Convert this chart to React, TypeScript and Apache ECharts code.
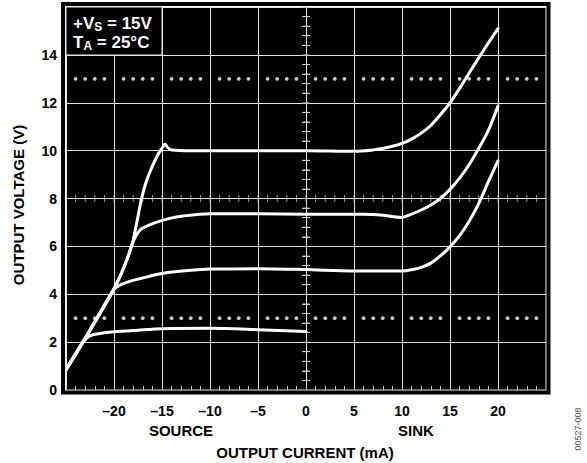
import React, { useEffect, useRef } from "react";
import * as echarts from "echarts";

const FONT = '"Liberation Sans", Arial, Helvetica, sans-serif';

// Output current (mA) vs output voltage (V)
const curveLow: number[][] = [
  [-25, 0.85], [-24, 1.48], [-23.2, 2.0], [-22.6, 2.25], [-21.8, 2.34], [-20, 2.43],
  [-17.5, 2.5], [-15, 2.56], [-10, 2.58], [-5, 2.52], [0, 2.44],
];
const curve5: number[][] = [
  [-25, 0.85], [-22.5, 2.5], [-20.1, 4.15], [-19.4, 4.38], [-18, 4.58], [-16, 4.78],
  [-15, 4.87], [-12, 5.0], [-10, 5.05], [-5, 5.07], [0, 5.03], [5, 4.97], [10, 4.97],
  [11, 5.02], [12, 5.12], [13, 5.3], [14, 5.6], [15, 5.98], [16, 6.45], [17, 7.05],
  [18, 7.8], [19, 8.7], [20, 9.57],
];
const curve7: number[][] = [
  [-25, 0.85], [-22.5, 2.5], [-20.1, 4.15], [-19.2, 4.9], [-18.6, 5.5], [-18.1, 6.1],
  [-17.7, 6.45], [-17.1, 6.75], [-15.7, 6.99], [-14.2, 7.17], [-12.8, 7.27], [-10, 7.36],
  [-5, 7.36], [0, 7.34], [6, 7.34], [8, 7.3], [9.9, 7.21], [11, 7.35], [12, 7.52],
  [13, 7.73], [14, 8.0], [15, 8.38], [16, 8.85], [17, 9.42], [18, 10.1], [19, 10.85],
  [20, 11.86],
];
const curve10: number[][] = [
  [-25, 0.85], [-22.5, 2.5], [-20.1, 4.15], [-19.2, 4.9], [-18.6, 5.5], [-18.1, 6.1],
  [-17.6, 7.05], [-17.1, 8.05], [-16.6, 8.75], [-16.0, 9.35], [-15.4, 9.85], [-15.0, 10.1],
  [-14.7, 10.28], [-14.4, 10.12], [-14.0, 10.03], [-12, 10.0], [-5, 10.0], [0, 10.0],
  [5, 9.97], [7, 10.03], [8, 10.1], [9, 10.18], [10, 10.3], [11, 10.48], [12, 10.73],
  [13, 11.05], [14, 11.5], [15, 12.0], [16, 12.6], [17, 13.24], [18, 13.88], [19, 14.5],
  [20, 15.1],
];

const X_MIN = -25, X_MAX = 25, X_STEP = 5;
const Y_MIN = 0, Y_MAX = 16, Y_STEP = 2;
const xLabelsShown = [-20, -15, -10, -5, 0, 5, 10, 15, 20];
const yLabelsShown = [0, 2, 4, 6, 8, 10, 12, 14];
const dottedRows = [3, 13];

// graticule decorations (scope-style): dotted rows and center-line ticks
const dotPts: number[][] = [];
for (const yv of dottedRows) {
  for (let xv = X_MIN + 1; xv < X_MAX; xv++) {
    if (xv % 5 !== 0) dotPts.push([xv, yv]);
  }
}
const vTickPts: number[][] = [];
for (let i = 1; i < 40; i++) vTickPts.push([0, +(i * 0.4).toFixed(1)]);
const hTickPts: number[][] = [];
for (let xv = X_MIN + 1; xv < X_MAX; xv++) hTickPts.push([xv, 8]);

const lineSeries = (data: number[][]) => ({
  type: "line",
  data,
  showSymbol: false,
  smooth: 0.3,
  z: 5,
  silent: true,
  lineStyle: { color: "#ffffff", width: 3, cap: "round", join: "round" },
});

const tickColor = "#c8c8c8";

export default function App() {
  const ref = useRef<HTMLDivElement>(null);
  useEffect(() => {
    const chart = echarts.init(ref.current!, null, { renderer: "svg" });
    const xFmt = (v: number) =>
      xLabelsShown.includes(v) ? (v < 0 ? "\u2013" + Math.abs(v) : String(v)) : "";
    const yFmt = (v: number) => (yLabelsShown.includes(v) ? String(v) : "");
    const labelStyle = {
      fontFamily: FONT,
      fontWeight: "bold",
      fontSize: 14,
      color: "#000",
    };
    const axisCommon = {
      axisLine: { show: false },
      axisTick: { show: true, inside: true, length: 4, lineStyle: { color: tickColor } },
      minorTick: { show: true, splitNumber: 5, length: 4, lineStyle: { color: tickColor } },
    };
    chart.setOption({
      animation: false,
      backgroundColor: "#ffffff",
      grid: {
        left: 66,
        top: 7,
        width: 480,
        height: 383,
        show: true,
        backgroundColor: "#000000",
        borderColor: "#eeeeee",
        borderWidth: 1,
      },
      xAxis: [
        {
          type: "value",
          min: X_MIN,
          max: X_MAX,
          interval: X_STEP,
          position: "bottom",
          ...axisCommon,
          splitLine: { show: true, lineStyle: { color: "#e2e2e2", width: 1 } },
          axisLabel: { ...labelStyle, margin: 14, formatter: xFmt, showMinLabel: true, showMaxLabel: true },
        },
        {
          type: "value",
          min: X_MIN,
          max: X_MAX,
          interval: X_STEP,
          position: "top",
          ...axisCommon,
          splitLine: { show: false },
          axisLabel: { show: false },
        },
      ],
      yAxis: [
        {
          type: "value",
          min: Y_MIN,
          max: Y_MAX,
          interval: Y_STEP,
          position: "left",
          ...axisCommon,
          splitLine: { show: true, lineStyle: { color: "#e2e2e2", width: 1 } },
          axisLabel: { ...labelStyle, margin: 9, formatter: yFmt },
        },
        {
          type: "value",
          min: Y_MIN,
          max: Y_MAX,
          interval: Y_STEP,
          position: "right",
          ...axisCommon,
          splitLine: { show: false },
          axisLabel: { show: false },
        },
      ],
      series: [
        {
          type: "scatter",
          data: dotPts,
          symbol: "circle",
          symbolSize: 3.8,
          itemStyle: { color: "#ffffff" },
          silent: true,
          z: 2,
        },
        {
          type: "scatter",
          data: vTickPts,
          symbol: "rect",
          symbolSize: [7, 1],
          itemStyle: { color: tickColor },
          silent: true,
          z: 2,
        },
        {
          type: "scatter",
          data: hTickPts,
          symbol: "rect",
          symbolSize: [1, 7],
          itemStyle: { color: tickColor },
          silent: true,
          z: 2,
        },
        lineSeries(curveLow),
        lineSeries(curve5),
        lineSeries(curve7),
        lineSeries(curve10),
      ],
      graphic: [
        {
          type: "rect",
          z: 100,
          silent: true,
          shape: { x: 63, y: 4, width: 485.5, height: 388.5 },
          style: { fill: "none", stroke: "#000", lineWidth: 4 },
        },
        {
          type: "rect",
          z: 100,
          silent: true,
          shape: { x: 66, y: 7, width: 96, height: 48 },
          style: { fill: "#000", stroke: "#e2e2e2", lineWidth: 1 },
        },
        {
          type: "text",
          z: 101,
          silent: true,
          x: 73,
          y: 23,
          style: {
            text: "{a|+V}{s|S}{a| = 15V}",
            verticalAlign: "middle",
            rich: {
              a: { fontFamily: FONT, fontWeight: "bold", fontSize: 17, fill: "#fff" },
              s: { fontFamily: FONT, fontWeight: "bold", fontSize: 12, fill: "#fff", padding: [8, 0, 0, 0] },
            },
          },
        },
        {
          type: "text",
          z: 101,
          silent: true,
          x: 73,
          y: 42,
          style: {
            text: "{a|T}{s|A}{a| = 25\u00B0C}",
            verticalAlign: "middle",
            rich: {
              a: { fontFamily: FONT, fontWeight: "bold", fontSize: 17, fill: "#fff" },
              s: { fontFamily: FONT, fontWeight: "bold", fontSize: 12, fill: "#fff", padding: [8, 0, 0, 0] },
            },
          },
        },
        {
          type: "text",
          silent: true,
          x: 18,
          y: 205,
          rotation: Math.PI / 2,
          style: {
            text: "OUTPUT VOLTAGE (V)",
            fontFamily: FONT,
            fontWeight: "bold",
            fontSize: 15,
            fill: "#000",
            align: "center",
            verticalAlign: "middle",
          },
        },
        {
          type: "text",
          silent: true,
          x: 305,
          y: 452,
          style: {
            text: "OUTPUT CURRENT (mA)",
            fontFamily: FONT,
            fontWeight: "bold",
            fontSize: 15,
            fill: "#000",
            align: "center",
            verticalAlign: "middle",
          },
        },
        {
          type: "text",
          silent: true,
          x: 181,
          y: 430,
          style: {
            text: "SOURCE",
            fontFamily: FONT,
            fontWeight: "bold",
            fontSize: 15,
            fill: "#000",
            align: "center",
            verticalAlign: "middle",
          },
        },
        {
          type: "text",
          silent: true,
          x: 416,
          y: 430,
          style: {
            text: "SINK",
            fontFamily: FONT,
            fontWeight: "bold",
            fontSize: 15,
            fill: "#000",
            align: "center",
            verticalAlign: "middle",
          },
        },
        {
          type: "text",
          silent: true,
          x: 578,
          y: 429,
          rotation: Math.PI / 2,
          style: {
            text: "00527-008",
            fontFamily: FONT,
            fontSize: 9,
            fill: "#555",
            align: "center",
            verticalAlign: "middle",
          },
        },
      ],
    });
    return () => chart.dispose();
  }, []);
  return (
    <div
      ref={ref}
      style={{ position: "fixed", left: 0, top: 0, width: 587, height: 463, background: "#fff" }}
    />
  );
}
